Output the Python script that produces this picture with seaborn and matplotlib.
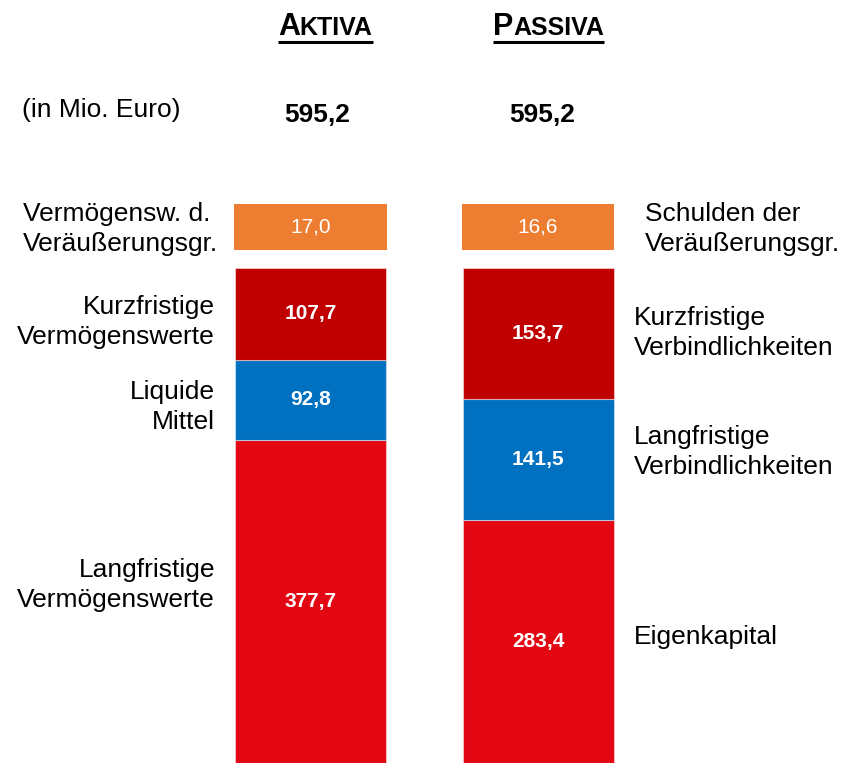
import numpy as np
import pandas as pd
import matplotlib
matplotlib.use('Agg')
import matplotlib.pyplot as plt
import seaborn as sns
from matplotlib.lines import Line2D

###############
# Data (in Mio. Euro)
###############
sides = ['Aktiva', 'Passiva']
side_titles = [('A', 'KTIVA'), ('P', 'ASSIVA')]
totals = [595.2, 595.2]

aktiva_items = ['Langfristige\nVermögenswerte', 'Liquide\nMittel', 'Kurzfristige\nVermögenswerte']
aktiva_values = [377.7, 92.8, 107.7]
passiva_items = ['Eigenkapital', 'Langfristige\nVerbindlichkeiten', 'Kurzfristige\nVerbindlichkeiten']
passiva_values = [283.4, 141.5, 153.7]

disposal_items = ['Vermögensw. d.\nVeräußerungsgr.', 'Schulden der\nVeräußerungsgr.']
disposal_values = [17.0, 16.6]

###############
# Style
###############
layer_colors = ['#E30613', '#0070C0', '#C00000']
disposal_color = '#ED7D31'
bar_width = 0.664
gap = 20          # space between stack and disposal box (value units)
box_height = 54   # disposal box is drawn with a fixed height, as in the original
# vertical nudges of the side labels (value units, + = up)
aktiva_nudge = [19, -8, -9]
passiva_nudge = [5, 9, 0]


def fmt(v):
    return f'{v:.1f}'.replace('.', ',')


records = []
for side, items, values in zip(sides, [aktiva_items, passiva_items], [aktiva_values, passiva_values]):
    bottom = 0
    for layer, (item, value) in enumerate(zip(items, values)):
        records.append(dict(side=side, layer=layer, item=item, value=value, bottom=bottom))
        bottom += value
df = pd.DataFrame(records)

sns.set_style('white')
plt.rcParams['font.family'] = ['Liberation Sans', 'DejaVu Sans']
plt.rcParams['text.color'] = 'black'

fig = plt.figure(figsize=(8.47, 7.63), dpi=100)
ax = fig.add_axes([0, 0, 1, 1])

for layer, color in enumerate(layer_colors):
    sub = df[df['layer'] == layer]
    sns.barplot(data=sub, x='side', y='value', order=sides, bottom=sub['bottom'].values,
                color=color, saturation=1, width=bar_width, errorbar=None,
                edgecolor=(1, 1, 1, 0.45), linewidth=0.8, ax=ax)

# disposal group boxes above the stacks
stack_top = df.groupby('side')['value'].sum().max()
positions = np.arange(len(sides))
ax.bar(positions, box_height, bottom=stack_top + gap, width=bar_width + 0.005,
       color=disposal_color, linewidth=0)
for pos, val in zip(positions, disposal_values):
    ax.text(pos, stack_top + gap + box_height / 2, fmt(val), color='white',
            fontsize=15, ha='center', va='center')

# segment values
for key, row in df.iterrows():
    pos = sides.index(row['side'])
    ax.text(pos, row['bottom'] + row['value'] / 2, fmt(row['value']), color='white',
            fontsize=15, fontweight='bold', ha='center', va='center')

# side labels
for key, row in df.iterrows():
    pos = sides.index(row['side'])
    y = row['bottom'] + row['value'] / 2
    if pos == 0:
        ax.text(-bar_width / 2 - 0.088, y + aktiva_nudge[row['layer']], row['item'],
                fontsize=19, ha='right', va='center', linespacing=1.3)
    else:
        ax.text(1 + bar_width / 2 + 0.09, y + passiva_nudge[row['layer']], row['item'],
                fontsize=19, ha='left', va='center', linespacing=1.3)

box_mid = stack_top + gap + box_height / 2
ax.text(-1.264, box_mid - 2, disposal_items[0], fontsize=19, ha='left', va='center', linespacing=1.3)
ax.text(1.47, box_mid - 2, disposal_items[1], fontsize=19, ha='left', va='center', linespacing=1.3)

ax.set_xlim(-1.365, 2.358)
ax.set_ylim(0, 891)
ax.axis('off')

###############
# Header
###############
fig.text(0.026, 0.856, '(in Mio. Euro)', fontsize=19, ha='left', va='center')
for xc, total in zip([0.374, 0.640], totals):
    fig.text(xc, 0.849, fmt(total), fontsize=19, fontweight='bold', ha='center', va='center')

renderer = fig.canvas.get_renderer()
for xc, (first, rest) in zip([0.384, 0.648], side_titles):
    t1 = fig.text(0, 0.954, first, fontsize=22, fontweight='bold', ha='left', va='baseline')
    t2 = fig.text(0, 0.954, rest, fontsize=18, fontweight='bold', ha='left', va='baseline')
    w1 = t1.get_window_extent(renderer).width / fig.bbox.width
    w2 = t2.get_window_extent(renderer).width / fig.bbox.width
    x0 = xc - (w1 + w2) / 2
    t1.set_x(x0)
    t2.set_x(x0 + w1)
    fig.add_artist(Line2D([x0, x0 + w1 + w2], [0.945, 0.945], transform=fig.transFigure,
                          color='black', linewidth=2.2, solid_capstyle='butt'))

plt.savefig('out.png', dpi=100)
